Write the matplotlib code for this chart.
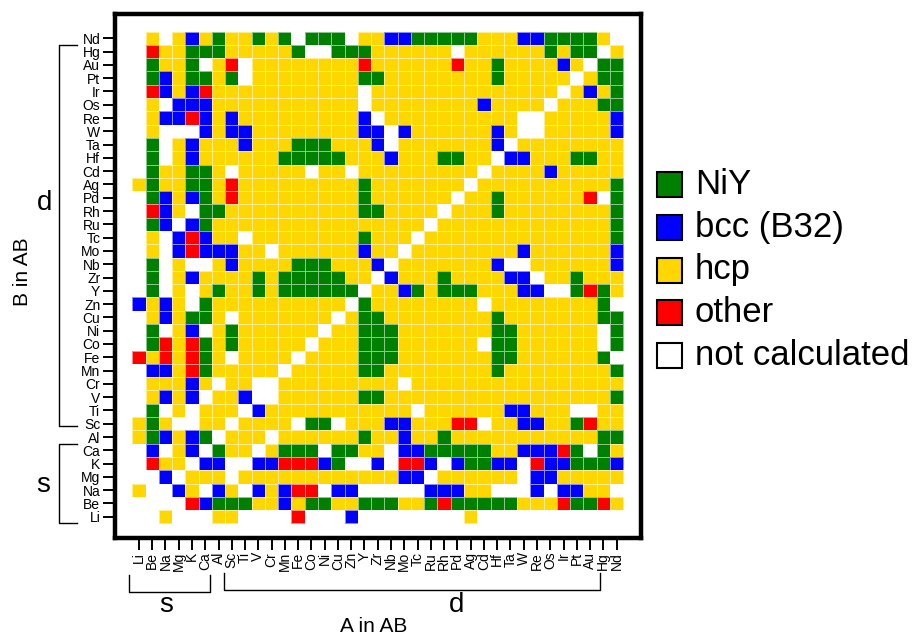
import numpy as np
import matplotlib.pyplot as plt
from matplotlib.colors import ListedColormap
from matplotlib.patches import Rectangle

plt.rcParams['font.family'] = ['Liberation Sans', 'DejaVu Sans']

# A elements along x (left to right)
a_elements = ['Li', 'Be', 'Na', 'Mg', 'K', 'Ca', 'Al', 'Sc', 'Ti', 'V', 'Cr', 'Mn',
              'Fe', 'Co', 'Ni', 'Cu', 'Zn', 'Y', 'Zr', 'Nb', 'Mo', 'Tc', 'Ru', 'Rh',
              'Pd', 'Ag', 'Cd', 'Hf', 'Ta', 'W', 'Re', 'Os', 'Ir', 'Pt', 'Au', 'Hg', 'Nd']
# B elements along y (top to bottom)
b_elements = a_elements[::-1]

phase_names = ['NiY', 'bcc (B32)', 'hcp', 'other', 'not calculated']
phase_codes = ['G', 'B', 'Y', 'R', '.']
phase_colors = ['#008000', '#0000ff', '#ffd700', '#ff0000', '#ffffff']

# lowest energy structure of each AB compound
# one string per B row (Nd at top), one character per A column (Li first)
structures = [
    '.Y.YBYGYYGYG.GGG.YY' + 'BBGGGGGYYYBBGGGGY.',  # Nd
    '.RYYGGGYYYYYG..GGGY' + 'YYYYY.YYYYYYGYGG.Y',  # Hg
    '.GYYG.YR.YYYYYYYYRY' + 'YYYYYRYYGYYYYBY.GG',  # Au
    '.GBYGGYG.YYYYYYYYGG' + 'YYYYYYYYGYYYYY.YGG',  # Pt
    '.RBYBRYYYYYYYYYYY.Y' + 'YYYYYYYYYYYYY.YBYG',  # Ir
    '.Y.BBBYYYYYYYYYYY.Y' + 'YYYYYYYBYYYY.YYYGG',  # Os
    '.YBBRBYBYYYYYYYYYB.' + 'YYYYYYYYYY..YYYYYB',  # Re
    '.Y...BYBBYYYYYYYYBB' + '.BYYYYYYBY..YYYYYB',  # W
    '.G.YBYYYBYYYGGGYYYB' + '.YYYYYYYB.YYYYYYYY',  # Ta
    '.G.YBYYYYYYGGGGGYYY' + 'BYYYGGYY.BBYYYGGYY',  # Hf
    '.GYYGGY.YYYYY.YY.YY' + 'YYYYYYY.YYYYBYYYYY',  # Cd
    'YGYYGGYRYYYYYYYYYGY' + 'YYYYYY.YYYYYYYYYYG',  # Ag
    '.GBYBGYRYYYYYYYYYGY' + 'YYYYY.YYGYYYYYYR.G',  # Pd
    '.RBY.GGYYYYYYYYYYGG' + 'YYYY.YYYGYYYYYYYYG',  # Rh
    '.GB.BGYYYYYYYYYYYYY' + 'YYY.YYYYYYYYYYYYYG',  # Ru
    '.Y.BRBYY.YYYYYYYYGY' + 'YY.YYYYYYYYYYYYYYG',  # Tc
    '.Y.BRBBBYY.YYYYYYBY' + 'Y.YYYYYYYYBYYYYYYB',  # Mo
    '.G.Y..YBYYYYGGGYYYB' + '.YYYYYYYB..YYYYYYB',  # Nb
    '.G.YBYYYYGYGGGGGYY.' + 'BYYYGYYYYBB.YYGYYY',  # Zr
    '.G.Y.YGYYGYGGGGGG.Y' + 'YBGYGGGYYYBB..GRGY',  # Y
    'BYBY.GYYYYYYYYYY.GY' + 'YYYYYYY.YYYYYYYYG.',  # Zn
    '.YBYGGY.YYYYYYY.YGG' + 'YYYYYYYYGYYYYYYYGG',  # Cu
    '.G.YB.YGYYYYYY.YYGG' + 'GYYYYYYYGGYYYYYY.G',  # Ni
    '.GRYRGYGYYYYY.YYYGG' + 'GYYYYYY.GGYYYYYY.G',  # Co
    'RYRYRGY.YYYY.YYYYGG' + 'GYYYYYYYGGYYYYYYG.',  # Fe
    '.BBYRGYYYYY.YYYYYGG' + 'YYYYYYYYGYYYYYYYYG',  # Mn
    '.YYYBY.YY..YYYYYYYY' + 'Y.YYYYYYYYYYYYYYYY',  # Cr
    '.YBYB.YYB..YYYYYYGG' + 'YYYYYYYYYYYYYYYYYG',  # V
    '.G.Y.YYY.BYYYYYYYYY' + 'YY.YYYYYYBBYYY..YY',  # Ti
    'YGY..YY.YYYY.GG.YYY' + 'BBYYYRR.YYBBYYGRYY',  # Sc
    'YGBYBG.YYY.YYYYYYGY' + 'YBYYGYYYYYYYYYYYGG',  # Al
    '.B.YB.GYY.YGGG.GGYY' + '.BBGGGGGYYBBBRG.GY',  # Ca
    '.RYY.BB..BBRRRBG..B' + '.RRB.BGGBB.RBBGGGB',  # K
    '..B.YYY.YYYYYYYYYYY' + 'YBB.YYYYYY.BBYYYYY',  # Mg
    'Y..BY.BY.BYBRR.BB..' + '...BBBYY...B.BBYY.',  # Na
    '....RBGGGYYBYGGYYGG' + 'GYYGRGGGGGYYYRGGRY',  # Be
    '..Y...YY....R...B..' + '......Y...........',  # Li
]

grid = np.array([[phase_codes.index(c) for c in row] for row in structures])
n = len(a_elements)

fig = plt.figure(figsize=(9.16, 6.34), dpi=100)
ax = fig.add_axes([115 / 916, 1 - 538.3 / 634, (640.5 - 115) / 916, (538.3 - 13.8) / 634])

cmap = ListedColormap(phase_colors)
edges = np.arange(n + 1) - 0.5
ax.pcolormesh(edges, edges, grid, cmap=cmap, vmin=-0.5, vmax=len(phase_colors) - 0.5,
              edgecolors=(1, 1, 1, 0.55), linewidth=0.6)

ax.set_xlim(-1.80, 37.80)
ax.set_ylim(37.62, -1.84)

for s in ax.spines.values():
    s.set_linewidth(3.2)

ax.set_xticks(range(n))
ax.set_xticklabels(a_elements, rotation=90, fontsize=10)
ax.set_yticks(range(n))
ax.set_yticklabels(b_elements, fontsize=10)
ax.tick_params(axis='both', length=8.4, width=1.4, direction='out')
ax.tick_params(axis='y', pad=2.2)
ax.tick_params(axis='x', pad=1.3)

# group brackets for the s and d blocks
kw = dict(color='black', lw=1.0, clip_on=False)
ax.plot([-4.69, -6.0, -6.0, -4.69], [0.5, 0.5, 29.2, 29.2], **kw)
ax.plot([-4.69, -6.0, -6.0, -4.69], [30.5, 30.5, 36.5, 36.5], **kw)
ax.plot([-0.75, -0.75, 5.36, 5.36], [40.38, 41.64, 41.64, 40.38], **kw)
ax.plot([6.41, 6.41, 34.75, 34.75], [40.26, 41.5, 41.5, 40.26], **kw)

ax.text(-7.08, 12.92, 'd', fontsize=20, ha='center', va='baseline', clip_on=False)
ax.text(-7.23, 34.1, 's', fontsize=20, ha='center', va='baseline', clip_on=False)
ax.text(2.03, 43.15, 's', fontsize=20, ha='center', va='baseline', clip_on=False)
ax.text(23.95, 43.15, 'd', fontsize=20, ha='center', va='baseline', clip_on=False)

fig.text(374 / 916, 1 - 631.7 / 634, 'A in AB', fontsize=15, ha='center', va='baseline')
fig.text(22 / 916, 1 - 272 / 634, 'B in AB', fontsize=15, ha='center', va='center',
         rotation=90)

# legend boxes
for i, (name, col) in enumerate(zip(phase_names, phase_colors)):
    yc = 184.5 + 42.75 * i
    fig.patches.append(Rectangle((657 / 916, 1 - (yc + 12.5) / 634), 25 / 916, 25 / 634,
                                 facecolor=col, edgecolor='black', linewidth=1.5,
                                 transform=fig.transFigure, figure=fig))
    fig.text(695 / 916, 1 - yc / 634, name, fontsize=25, ha='left', va='center')

fig.savefig('out.png', dpi=100)
